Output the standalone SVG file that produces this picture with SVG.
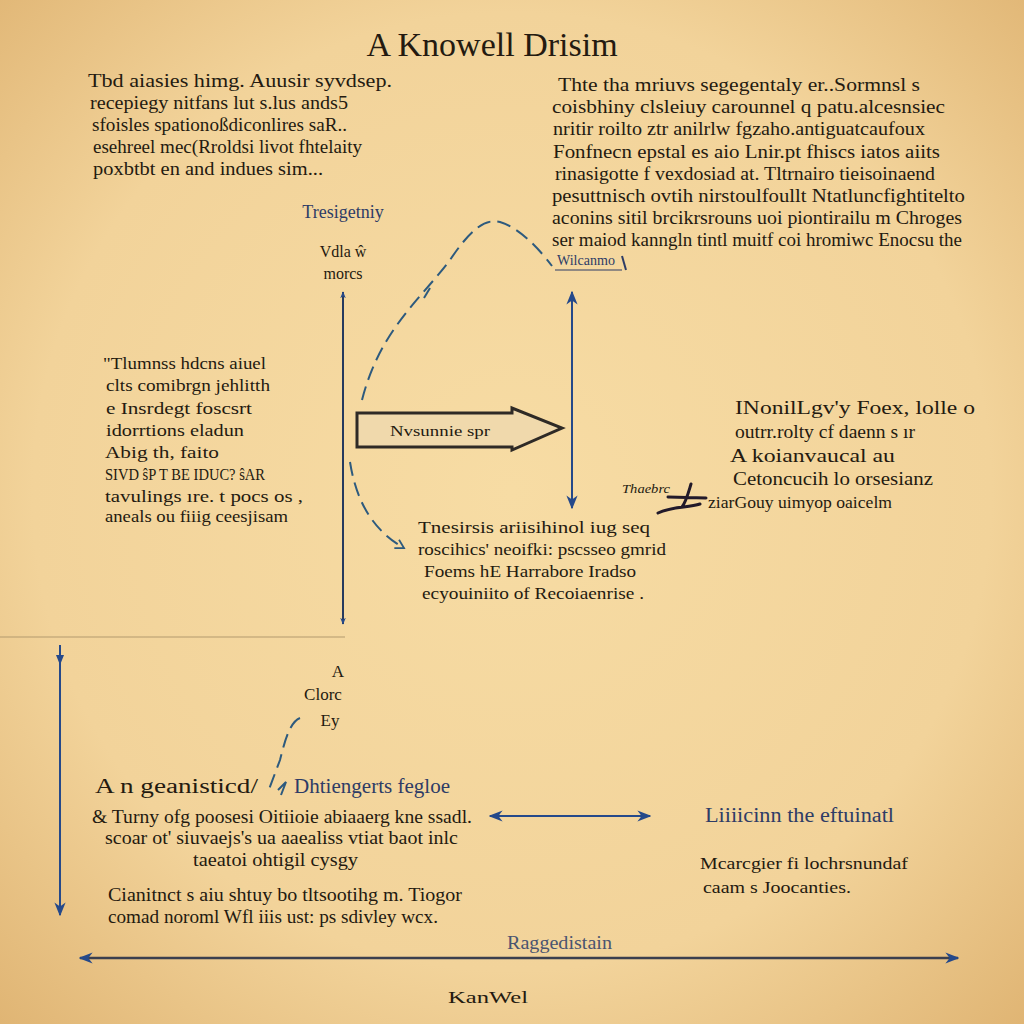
<svg xmlns="http://www.w3.org/2000/svg" width="1024" height="1024" viewBox="0 0 1024 1024">
<defs>
<radialGradient id="bg" cx="50%" cy="48%" r="72%">
<stop offset="0" stop-color="#f7dca4"/>
<stop offset="0.65" stop-color="#f2d39a"/>
<stop offset="1" stop-color="#e0b574"/>
</radialGradient>
<marker id="ab" viewBox="0 0 10 10" refX="9" refY="5" markerWidth="7" markerHeight="7" orient="auto-start-reverse" markerUnits="userSpaceOnUse">
<path d="M0,1 L10,5 L0,9 L3,5 Z" fill="#25498a"/>
</marker>
<marker id="abL" viewBox="0 0 10 10" refX="9" refY="5" markerWidth="14" markerHeight="14" orient="auto-start-reverse" markerUnits="userSpaceOnUse">
<path d="M0,1 L10,5 L0,9 L3,5 Z" fill="#25498a"/>
</marker>
<marker id="open" viewBox="0 0 10 10" refX="8" refY="5" markerWidth="12" markerHeight="12" orient="auto" markerUnits="userSpaceOnUse">
<path d="M1,1 L8,5 L1,9" fill="none" stroke="#2d5a7e" stroke-width="1.5"/>
</marker>
</defs>
<style>
text{font-family:"Liberation Serif","DejaVu Serif",serif;fill:#241a10}
.p{font-size:18px}
.s{font-size:17px}
.b{fill:#2e3c66}
.ln{stroke:#263a5e;stroke-width:2;fill:none}
.bl{stroke:#25498a;stroke-width:2;fill:none}
.dash{stroke:#2d5a7e;stroke-width:2;fill:none;stroke-dasharray:14 7}
</style>
<rect width="1024" height="1024" fill="url(#bg)"/>

<g id="connectors">
<line x1="0" y1="637" x2="345" y2="637" stroke="#b39a6e" stroke-width="1"/>
<line class="ln" x1="343" y1="292" x2="343" y2="624" marker-start="url(#ab)" marker-end="url(#ab)"/>
<line class="bl" x1="572" y1="292" x2="572" y2="508" marker-start="url(#abL)" marker-end="url(#abL)"/>
<line class="bl" x1="60" y1="645" x2="60" y2="915" marker-end="url(#abL)"/>
<path d="M56,655 L60,665 L64,655 Z" fill="#25498a"/>
<line class="bl" x1="490" y1="816" x2="650" y2="816" marker-start="url(#abL)" marker-end="url(#abL)"/>
<line x1="80" y1="958" x2="958" y2="958" stroke="#3b3f4e" stroke-width="2.5" marker-start="url(#abL)" marker-end="url(#abL)"/>
<path class="dash" d="M362,400 C380,330 420,300 450,260 C470,230 485,218 500,222 C520,228 540,250 552,266"/>
<path d="M424,298 L430,288" stroke="#2d5a7e" stroke-width="2"/>
<path class="dash" d="M350,462 C356,500 372,530 404,548" marker-end="url(#open)"/>
<path class="dash" d="M300,718 C290,722 285,740 280,760 L268,792" stroke-dasharray="12 6"/>
<path d="M278,790 L286,782 L281,795" fill="none" stroke="#2d5a7e" stroke-width="2"/>
<path d="M668,497 L706,498 M691,484 C688,494 686,502 682,507 M658,513 C672,506 688,508 700,504" fill="none" stroke="#221a2a" stroke-width="3" stroke-linecap="round"/>
</g>

<g id="title"><text x="492" y="56" font-size="34" text-anchor="middle">A Knowell Drisim</text></g>

<g id="node-top-left">
<text class="p" x="88" y="87" textLength="304" lengthAdjust="spacingAndGlyphs">Tbd aiasies himg. Auusir syvdsep.</text>
<text class="p" x="90" y="109" textLength="258" lengthAdjust="spacingAndGlyphs">recepiegy nitfans  lut s.lus ands5</text>
<text class="p" x="92" y="131" textLength="255" lengthAdjust="spacingAndGlyphs">sfoisles spationoßdiconlires saR..</text>
<text class="p" x="93" y="153" textLength="269" lengthAdjust="spacingAndGlyphs">esehreel  mec(Rroldsi livot fhtelaity</text>
<text class="p" x="93" y="175" textLength="230" lengthAdjust="spacingAndGlyphs">poxbtbt en and indues sim...</text>
</g>

<g id="node-trajectory">
<text class="p b" x="343" y="218" text-anchor="middle">Tresigetniy</text>
<text x="343" y="257" font-size="16" text-anchor="middle">Vdla ŵ</text>
<text x="343" y="279" font-size="16" text-anchor="middle">morcs</text>
</g>

<g id="node-top-right">
<text class="p" x="558" y="91" textLength="362" lengthAdjust="spacingAndGlyphs">Thte tha mriuvs  segegentaly  er..Sormnsl  s</text>
<text class="p" x="552" y="113" textLength="393" lengthAdjust="spacingAndGlyphs">coisbhiny  clsleiuy  carounnel  q  patu.alcesnsiec</text>
<text class="p" x="553" y="135" textLength="372" lengthAdjust="spacingAndGlyphs">nritir  roilto  ztr  anilrlw  fgzaho.antiguatcaufoux</text>
<text class="p" x="553" y="158" textLength="387" lengthAdjust="spacingAndGlyphs">Fonfnecn  epstal es aio Lnir.pt  fhiscs  iatos aiits</text>
<text class="p" x="555" y="180" textLength="380" lengthAdjust="spacingAndGlyphs">rinasigotte f vexdosiad  at.  Tltrnairo  tieisoinaend</text>
<text class="p" x="552" y="202" textLength="413" lengthAdjust="spacingAndGlyphs">pesuttnisch  ovtih  nirstoulfoullt  Ntatluncfightitelto</text>
<text class="p" x="552" y="224" textLength="410" lengthAdjust="spacingAndGlyphs">aconins  sitil  brcikrsrouns  uoi  piontirailu  m  Chroges</text>
<text class="p" x="552" y="246" textLength="410" lengthAdjust="spacingAndGlyphs">ser  maiod kanngln  tintl  muitf  coi  hromiwc  Enocsu the</text>
<text x="557" y="265" font-size="14" class="b" textLength="58" lengthAdjust="spacingAndGlyphs">Wilcanmo</text>
<line x1="555" y1="270" x2="622" y2="270" stroke="#2e3c66" stroke-width="1.2"/>
<path d="M622,256 L626,270" stroke="#2e3c66" stroke-width="2"/>
</g>

<g id="node-arrow-box">
<path d="M357,413 L512,413 L512,408 L562,428 L512,450 L512,447 L357,447 Z" fill="#f0d9ac" stroke="#2e2a26" stroke-width="3" stroke-linejoin="miter"/>
<text x="440" y="436" font-size="15" text-anchor="middle" textLength="100" lengthAdjust="spacingAndGlyphs">Nvsunnie spr</text>
</g>

<g id="node-left-middle">
<text class="s" x="103" y="369" textLength="163" lengthAdjust="spacingAndGlyphs">"Tlumnss  hdcns aiuel</text>
<text class="s" x="106" y="391" textLength="164" lengthAdjust="spacingAndGlyphs">clts  comibrgn jehlitth</text>
<text class="s" x="106" y="414" textLength="146" lengthAdjust="spacingAndGlyphs">e Insrdegt  foscsrt</text>
<text class="s" x="106" y="436" textLength="138" lengthAdjust="spacingAndGlyphs">idorrtions  eladun</text>
<text class="s" x="105" y="458" textLength="114" lengthAdjust="spacingAndGlyphs">Abig th, faito</text>
<text class="s" x="105" y="480" textLength="160" lengthAdjust="spacingAndGlyphs">SIVD ŝP T  BE  IDUC? ŝAR</text>
<text class="s" x="105" y="502" textLength="198" lengthAdjust="spacingAndGlyphs">tavulings ıre. t pocs os ,</text>
<text class="s" x="105" y="522" textLength="183" lengthAdjust="spacingAndGlyphs">aneals ou fiiig ceesjisam</text>
</g>

<g id="node-center-bottom">
<text class="s" x="418" y="533" textLength="232" lengthAdjust="spacingAndGlyphs">Tnesirsis  ariisihinol iug seq</text>
<text class="s" x="418" y="555" textLength="248" lengthAdjust="spacingAndGlyphs">roscihics' neoifki: pscsseo gmrid</text>
<text class="s" x="424" y="577" textLength="212" lengthAdjust="spacingAndGlyphs">Foems  hE  Harrabore  Iradso</text>
<text class="s" x="422" y="599" textLength="222" lengthAdjust="spacingAndGlyphs">ecyouiniito  of Recoiaenrise .</text>
</g>

<g id="node-right-middle">
<text class="p" x="735" y="414" textLength="240" lengthAdjust="spacingAndGlyphs">INonilLgv'y Foex, lolle  o</text>
<text class="p" x="735" y="438" textLength="180" lengthAdjust="spacingAndGlyphs">outrr.rolty cf daenn  s ır</text>
<text class="p" x="730" y="462" textLength="165" lengthAdjust="spacingAndGlyphs">A  koianvaucal au</text>
<text class="p" x="733" y="485" textLength="200" lengthAdjust="spacingAndGlyphs">Cetoncucih  lo orsesianz</text>
<text x="622" y="493" font-size="12" font-style="italic" textLength="48" lengthAdjust="spacingAndGlyphs">Thaebrc</text>
<text class="s" x="708" y="508" textLength="184" lengthAdjust="spacingAndGlyphs">ziarGouy  uimyop  oaicelm</text>
</g>

<g id="node-close">
<text class="s" x="338" y="677" text-anchor="middle">A</text>
<text class="s" x="323" y="700" text-anchor="middle">Clorc</text>
<text class="s" x="330" y="726" text-anchor="middle">Ey</text>
</g>

<g id="node-bottom-left">
<text x="95" y="793" font-size="20" textLength="163" lengthAdjust="spacingAndGlyphs">A n geanisticd/</text>
<text x="294" y="793" font-size="20" class="b" textLength="156" lengthAdjust="spacingAndGlyphs">Dhtiengerts  fegloe</text>
<text class="p" x="92" y="823" textLength="380" lengthAdjust="spacingAndGlyphs">&amp; Turny  ofg  poosesi  Oitiioie  abiaaerg  kne  ssadl.</text>
<text class="p" x="105" y="844" textLength="353" lengthAdjust="spacingAndGlyphs">scoar  ot' siuvaejs's   ua  aaealiss  vtiat  baot  inlc</text>
<text class="p" x="193" y="866" textLength="165" lengthAdjust="spacingAndGlyphs">taeatoi  ohtigil cysgy</text>
<text class="p" x="108" y="901" textLength="354" lengthAdjust="spacingAndGlyphs">Cianitnct s  aiu  shtuy  bo  tltsootihg  m. Tiogor</text>
<text class="p" x="108" y="923" textLength="330" lengthAdjust="spacingAndGlyphs">comad  noroml  Wfl  iiis ust: ps  sdivley wcx.</text>
</g>

<g id="node-bottom-right">
<text x="705" y="822" font-size="20" class="b" textLength="189" lengthAdjust="spacingAndGlyphs">Liiiicinn  the  eftuinatl</text>
<text class="s" x="700" y="869" textLength="208" lengthAdjust="spacingAndGlyphs">Mcarcgier  fi  lochrsnundaf</text>
<text class="s" x="703" y="893" textLength="148" lengthAdjust="spacingAndGlyphs">caam s  Joocanties.</text>
</g>

<g id="node-footer">
<text x="507" y="949" font-size="18" style="fill:#4a5470" textLength="105" lengthAdjust="spacingAndGlyphs">Raggedistain</text>
<text x="448" y="1003" font-size="17" textLength="80" lengthAdjust="spacingAndGlyphs">KanWel</text>
</g>
</svg>
